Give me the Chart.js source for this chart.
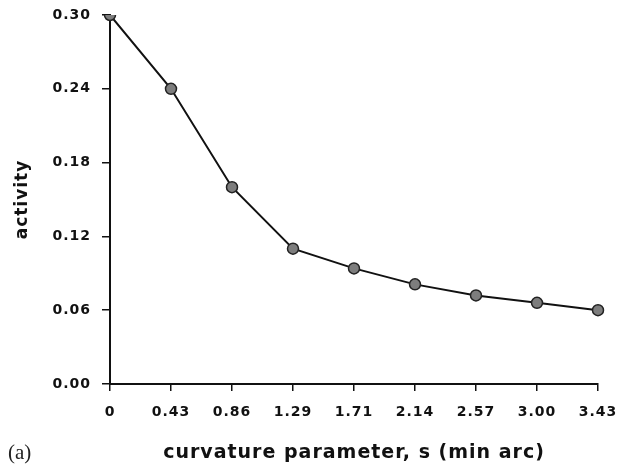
<!DOCTYPE html>
<html>
<head>
<meta charset="utf-8">
<script src="https://cdn.jsdelivr.net/npm/chart.js@4"></script>
<style>
  body { margin: 0; background: #fff; }
</style>
</head>
<body>
<canvas id="activity-chart" width="620" height="469"></canvas>
<script>
// curvature parameter s (min arc) and activity
const curvature = ["0", "0.43", "0.86", "1.29", "1.71", "2.14", "2.57", "3.00", "3.43"];
const activity = [0.30, 0.24, 0.16, 0.11, 0.094, 0.081, 0.072, 0.066, 0.060];
const yTicks = [0.00, 0.06, 0.12, 0.18, 0.24, 0.30];

const tickFont = { family: "DejaVu Sans", weight: "bold", size: 14 };

// old typewriter-ish plots have wide letter spacing
const spacing = {
  id: "spacing",
  beforeDraw(chart) {
    chart.ctx.letterSpacing = "1px";
  },
};

// the little "(a)" panel label at the bottom left
const panelLabel = {
  id: "panelLabel",
  afterDraw(chart) {
    const ctx = chart.ctx;
    ctx.save();
    ctx.letterSpacing = "0px";
    ctx.fillStyle = "#222";
    ctx.font = "21px 'Liberation Serif'";
    ctx.textBaseline = "middle";
    ctx.fillText("(a)", 8, 453);
    ctx.restore();
  },
};

async function main() {
  const canvas = document.querySelector("#activity-chart");

  new Chart(canvas.getContext("2d"), {
    type: "line",
    data: {
      labels: curvature,
      datasets: [
        {
          label: "activity",
          data: activity,
          borderColor: "#111",
          borderWidth: 2,
          backgroundColor: "#7d7d7d",
          pointBorderColor: "#222",
          pointBorderWidth: 1.5,
          pointRadius: 5.5,
          tension: 0,
        },
      ],
    },
    options: {
      responsive: false,
      animation: false,
      layout: { padding: { top: 15, right: 22, left: 0, bottom: 0 } },
      plugins: {
        legend: { display: false },
        tooltip: { enabled: false },
      },
      scales: {
        x: {
          type: "category",
          offset: false,
          grid: {
            drawOnChartArea: false,
            drawTicks: true,
            tickLength: 7,
            color: "#111",
            lineWidth: 1.5,
          },
          border: { color: "#111", width: 2 },
          ticks: {
            color: "#111",
            font: tickFont,
            padding: 13,
            maxRotation: 0,
            autoSkip: false,
          },
          title: {
            display: true,
            text: "curvature parameter, s (min arc)",
            color: "#111",
            font: { family: "DejaVu Sans", weight: "bold", size: 19 },
            padding: { top: 10, bottom: 5 },
          },
          afterFit(scale) {
            scale.height = 85;
            // keep the big tick padding from eating into the plot width
            scale.paddingLeft = 0;
            scale.paddingRight = 16;
          },
        },
        y: {
          min: 0,
          max: 0.3,
          afterBuildTicks(scale) {
            scale.ticks = yTicks.map((v) => ({ value: v }));
          },
          grid: {
            drawOnChartArea: false,
            drawTicks: true,
            tickLength: 8,
            color: "#111",
            lineWidth: 1.5,
          },
          border: { color: "#111", width: 2 },
          ticks: {
            color: "#111",
            font: tickFont,
            padding: 11,
            callback: (value) => value.toFixed(2),
          },
          title: {
            display: true,
            text: "activity",
            color: "#111",
            font: { family: "DejaVu Sans", weight: "bold", size: 17 },
            padding: { top: 12, bottom: 4 },
          },
          afterFit(scale) {
            scale.width = 110;
            scale.paddingTop = 8;
            scale.paddingBottom = 8;
          },
        },
      },
    },
    plugins: [spacing, panelLabel],
  });
}

main();
</script>
</body>
</html>
